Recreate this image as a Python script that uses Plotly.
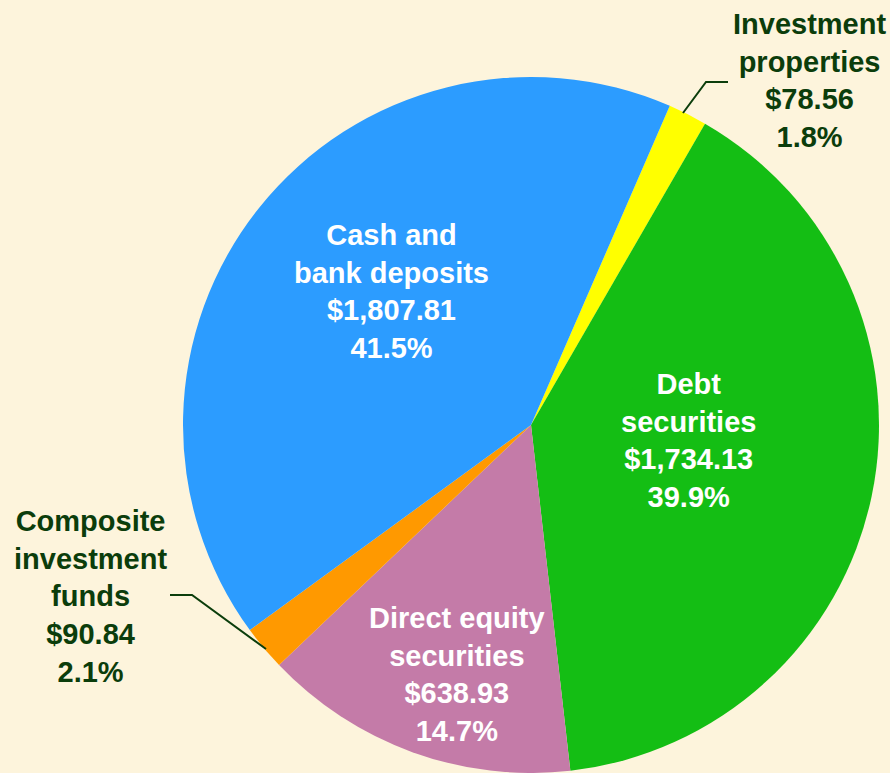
import plotly.graph_objects as go

W, H = 890, 773

# ---- data ----
categories = ["Investment<br>properties", "Debt<br>securities", "Direct equity<br>securities",
              "Composite<br>investment<br>funds", "Cash and<br>bank deposits"]
values = [78.56, 1734.13, 638.93, 90.84, 1807.81]
percent_labels = ["1.8%", "39.9%", "14.7%", "2.1%", "41.5%"]
colors = ["#FFFF00", "#14BE14", "#C47BA8", "#FF9900", "#2C9CFF"]

# label placement (pixel centres) and styles
label_pos = [(809, 80), (688, 440), (457, 674), (90, 596), (391, 292)]
label_colors = ["#0B3D0B", "#FFFFFF", "#FFFFFF", "#0B3D0B", "#FFFFFF"]

BG = "#FDF4DC"

def px(x):
    return x / W

def py(y):
    return 1 - y / H

fig = go.Figure()
fig.add_trace(go.Pie(
    labels=[c.replace("<br>", " ") for c in categories],
    values=values,
    sort=False,
    direction="clockwise",
    rotation=23.5,
    marker=dict(colors=colors, line=dict(width=0)),
    textinfo="none",
    hoverinfo="label+value+percent",
    showlegend=False,
    domain=dict(x=[px(183), px(879)], y=[0, 696 / H]),
))

annotations = []
for cat, val, pct, (lx, ly), col in zip(categories, values, percent_labels, label_pos, label_colors):
    annotations.append(dict(
        x=px(lx), y=py(ly), xref="paper", yref="paper",
        text=f"{cat}<br>${val:,.2f}<br>{pct}",
        showarrow=False, xanchor="center", yanchor="middle",
        font=dict(family="Liberation Sans, Arial, sans-serif", size=29, color=col, weight="bold"),
    ))

def path(points):
    return "M " + " L ".join(f"{px(x)},{py(y)}" for x, y in points)

shapes = [
    dict(type="path", xref="paper", yref="paper",
         path=path([(683, 113), (706, 82), (728, 82)]),
         line=dict(color="#0B3D0B", width=2)),
    dict(type="path", xref="paper", yref="paper",
         path=path([(170, 595), (192, 595), (266, 649)]),
         line=dict(color="#0B3D0B", width=2)),
]

fig.update_layout(
    width=W, height=H,
    margin=dict(l=0, r=0, t=0, b=0),
    paper_bgcolor=BG,
    plot_bgcolor=BG,
    annotations=annotations,
    shapes=shapes,
)

fig.write_html(
    "out.html",
    config={"displayModeBar": False},
    post_script=f"document.body.style.margin='0';document.body.style.background='{BG}';"
                "document.documentElement.style.overflow='hidden';",
)
